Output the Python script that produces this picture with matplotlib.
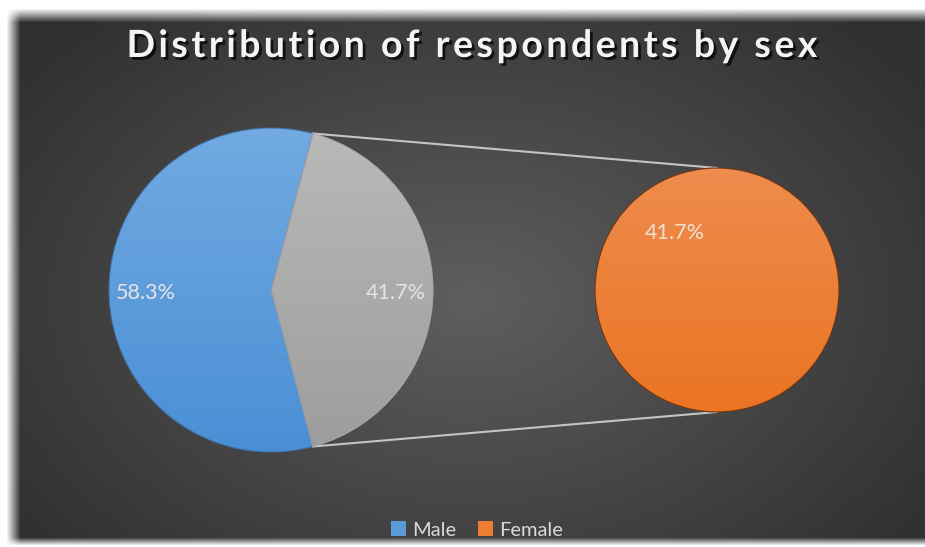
import numpy as np
import matplotlib
matplotlib.use("Agg")
import matplotlib.pyplot as plt
import matplotlib.patheffects as pe
from matplotlib.patches import Patch, Wedge
from matplotlib.colors import LinearSegmentedColormap

plt.rcParams['font.family'] = ['Lato', 'DejaVu Sans']

# data
categories = ['Male', 'Female']
shares = [58.3, 41.7]
title = 'Distribution of respondents by sex'

# colours (top / bottom of the soft vertical gradient)
blue = ('#72aae2', '#4a8fd5')
grey = ('#b9b9b9', '#9d9d9d')
orange = ('#ef8c4e', '#ea7422')
legend_cols = ['#5b9bd5', '#ed7d31']

W, H = 925, 547
fig = plt.figure(figsize=(W / 100, H / 100), dpi=100)
fig.patch.set_facecolor('#333333')
ax = fig.add_axes([0, 0, 1, 1])

# dark radial background with blurred white border
yy, xx = np.mgrid[0:H, 0:W]
r = np.sqrt(((xx - 470) / 560.0) ** 2 + ((yy - 300) / 380.0) ** 2)
shade = 0.37 - 0.18 * np.clip(r, 0, 1)
def ramp(d, w):
    return np.clip(d / w, 0, 1)
a = ramp(xx - 6.0, 14) * ramp(yy - 8.0, 14) * ramp(545.0 - yy, 8)
img = shade * a + 1.0 * (1 - a)
ax.imshow(np.dstack([img] * 3), extent=(0, W, 0, H), origin='upper', zorder=0)


def grad_fill(w, cols):
    cmap = LinearSegmentedColormap.from_list('g', [cols[1], cols[0]])
    g = np.linspace(0, 1, 256).reshape(-1, 1)
    cx, cy = w.center
    rr = w.r
    im = ax.imshow(g, cmap=cmap, extent=(cx - rr, cx + rr, cy - rr, cy + rr),
                   origin='lower', aspect='auto', zorder=2)
    im.set_clip_path(w)


# main pie: Male + the "other" slice that is broken out
main_c, main_r = (271, 257), 162
start = shares[1] * 3.6 / 2
wedges, _, pct = ax.pie(shares, colors=[blue[1], grey[1]], startangle=start,
                        center=main_c, radius=main_r, frame=True,
                        autopct='%.1f%%', pctdistance=0.77,
                        textprops=dict(color='#e4e4e4', fontsize=15.5))
for w, cols, ec in zip(wedges, [blue, grey], ['#3f6f9f', '#a8a8a8']):
    grad_fill(w, cols)
    ax.add_patch(Wedge(w.center, w.r, w.theta1, w.theta2, fill=False,
                       edgecolor=ec, lw=0.7, zorder=3))
for t in pct:
    t.set_zorder(5)
    t.set_y(t.get_position()[1] - 3)

# secondary pie: Female
sec_c, sec_r = (717, 257), 122
w2, _ = ax.pie([shares[1]], colors=[orange[1]], center=sec_c, radius=sec_r, frame=True)
grad_fill(w2[0], orange)
ax.add_patch(Wedge(w2[0].center, w2[0].r, w2[0].theta1, w2[0].theta2, fill=False,
                   edgecolor='#6a3512', lw=0.8, zorder=3))
ang = np.radians(127)
ax.text(sec_c[0] + 0.58 * sec_r * np.cos(ang), sec_c[1] + 0.58 * sec_r * np.sin(ang),
        f'{shares[1]:.1f}%', color='#f0e0d4', fontsize=15.5, ha='center', va='center', zorder=5)

# connector lines
for s in (1, -1):
    th = np.radians(s * start)
    ax.plot([main_c[0] + main_r * np.cos(th), sec_c[0]],
            [main_c[1] + main_r * np.sin(th), sec_c[1] + s * sec_r],
            color='#c4c4c4', lw=1.5, zorder=1)

ax.set_xlim(0, W)
ax.set_ylim(0, H)
ax.set_aspect('auto')
ax.axis('off')

# title with wide letter spacing, laid out char by char
tkw = dict(color='#f4f4f4', fontsize=27, fontweight='bold', va='baseline',
           path_effects=[pe.SimplePatchShadow(offset=(2, -2), shadow_rgbFace='black', alpha=0.7),
                         pe.Normal()])
renderer = fig.canvas.get_renderer()
def text_w(s):
    t = fig.text(0, 0, s, **tkw)
    wpx = t.get_window_extent(renderer).width
    t.remove()
    return wpx
spacing = 3.5
total = text_w(title) + spacing * (len(title) - 1)
x0 = 472 - total / 2
baseline = H - 57
for i, ch in enumerate(title):
    x = x0 + (text_w(title[:i]) if i else 0) + spacing * i
    fig.text(x / W, baseline / H, ch, ha='left', **tkw)

handles = [Patch(facecolor=c) for c in legend_cols]
fig.legend(handles, categories, loc='center', bbox_to_anchor=(477 / W, 1 - 530 / H),
           ncol=2, frameon=False, handlelength=0.75, handleheight=0.75,
           handletextpad=0.3, columnspacing=1.1, labelcolor='#dadada', fontsize=14.5)

fig.savefig('out.png', dpi=100, facecolor=fig.get_facecolor())
